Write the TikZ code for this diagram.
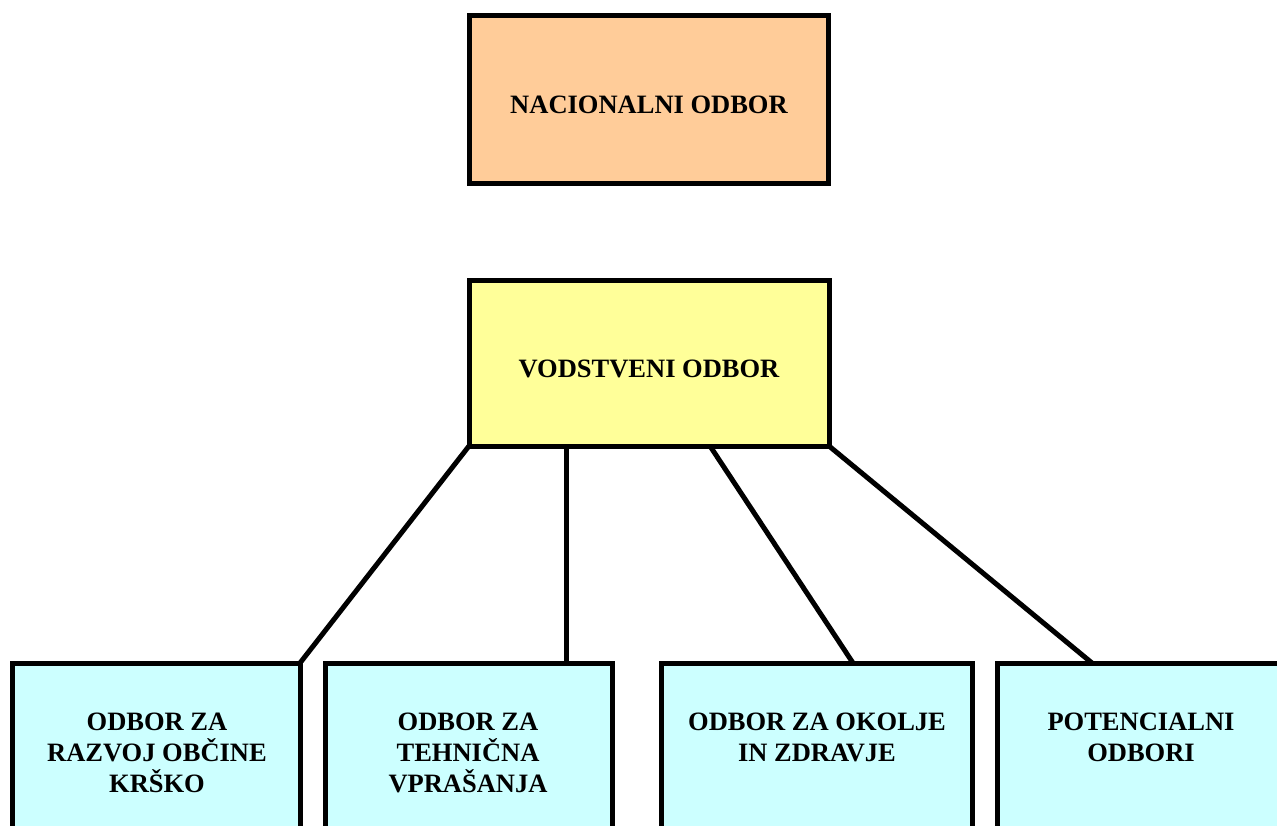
\documentclass[tikz,border=0pt]{standalone}
\usepackage{fontspec}
\setmainfont{Liberation Serif}
\usetikzlibrary{calc}
\definecolor{orangefill}{HTML}{FFCC99}
\definecolor{yellowfill}{HTML}{FFFF99}
\definecolor{cyanfill}{HTML}{CCFFFF}
\begin{document}
\begin{tikzpicture}[x=1pt,y=-1pt,
  box/.style={draw=black,line width=5pt,rectangle,inner sep=0pt,outer sep=0pt,anchor=north west},
  txt/.style={font=\fontsize{26.5}{31}\selectfont\bfseries,align=center,inner sep=0pt,anchor=north},
  conn/.style={line width=5pt}]
\useasboundingbox (0,0) rectangle (1277,825);
\clip (0,0) rectangle (1277,825);
% top boxes
\node[box,fill=orangefill,minimum width=359pt,minimum height=168pt] (nac) at (469.5,15) {};
\node[box,fill=yellowfill,minimum width=360pt,minimum height=166pt] (vod) at (469,280) {};
\node[txt,anchor=center] (tnac) at (649,105) {NACIONALNI ODBOR};
\node[txt,anchor=center] (tvod) at (649,369) {VODSTVENI ODBOR};
% bottom boxes
\node[box,fill=cyanfill,minimum width=288pt,minimum height=200pt] (b1) at (12,663) {};
\node[box,fill=cyanfill,minimum width=287pt,minimum height=200pt] (b2) at (325,663) {};
\node[box,fill=cyanfill,minimum width=311pt,minimum height=200pt] (b3) at (661,663) {};
\node[box,fill=cyanfill,minimum width=320pt,minimum height=200pt] (b4) at (997,663) {};
\node[txt] (t1) at (157,713) {ODBOR ZA\\RAZVOJ OBČINE\\KRŠKO};
\node[txt] (t2) at (468,713) {ODBOR ZA\\TEHNIČNA\\VPRAŠANJA};
\node[txt] (t3) at (817,713) {ODBOR ZA OKOLJE\\IN ZDRAVJE};
\node[txt] (t4) at (1141,713) {POTENCIALNI\\ODBORI};
% connectors
\coordinate (v2) at ($(vod.south west)+(97,0)$);
\coordinate (v3) at ($(vod.south west)+(241,0)$);
\coordinate (e3) at ($(b3.north west)+(192,0)$);
\coordinate (e4) at ($(b4.north west)+(95,0)$);
\draw[conn] (vod.south west) -- (b1.north east);
\draw[conn] (v2) -- (v2 |- b2.north);
\draw[conn] (v3) -- (e3);
\draw[conn] (vod.south east) -- (e4);
\end{tikzpicture}
\end{document}
